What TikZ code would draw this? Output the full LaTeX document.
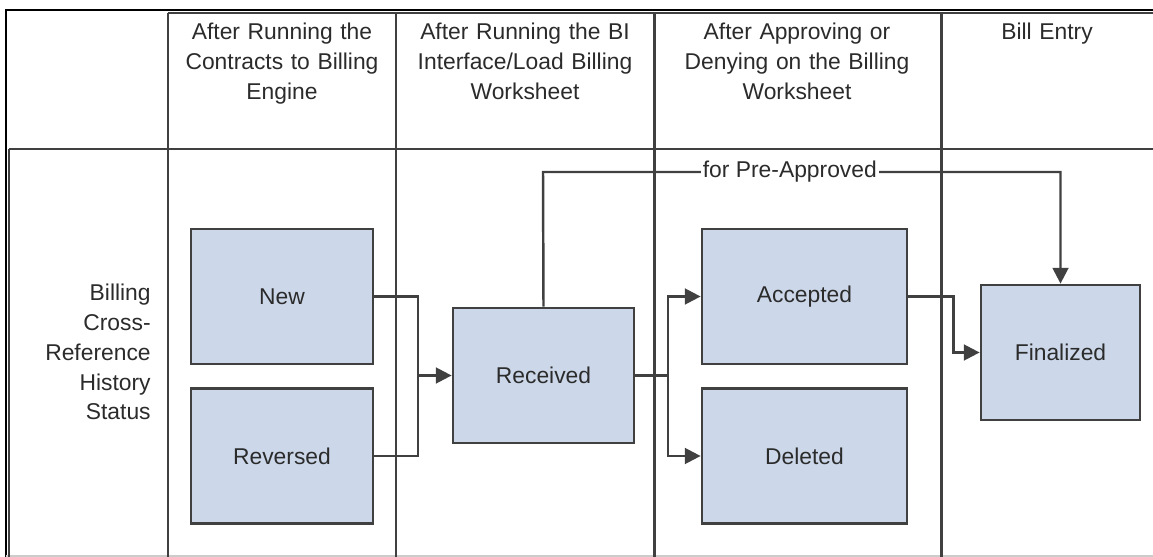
\documentclass[tikz,border=0pt]{standalone}
\usepackage{fontspec}
\setmainfont{Liberation Sans}
\usetikzlibrary{positioning,arrows.meta,calc}

\definecolor{boxfill}{HTML}{CCD8EA}
\definecolor{linegray}{HTML}{404040}
\definecolor{txtgray}{HTML}{2B2B2B}

\begin{document}
\begin{tikzpicture}[
    x=0.02cm, y=-0.02cm,
    font=\fontsize{13}{17}\selectfont, text=txtgray,
    lane/.style={draw=linegray, line width=1.7pt},
    head/.style={anchor=north, align=center, text width=5.4cm, inner sep=0pt},
    status/.style={draw=linegray, line width=1.6pt, fill=boxfill,
        minimum height=2.7cm, inner sep=0pt},
    conn/.style={draw=linegray, line width=1.4pt},
    arrow/.style={conn, -{Triangle[length=9pt, width=9pt]}},
    lbl/.style={fill=white, inner sep=1pt}
]
\useasboundingbox (0,0) rectangle (1153,557);

% outer frame
\draw[black, line width=0.8pt] (6,557) -- (6,10) -- (1153,10);
\draw[gray!40, line width=0.8pt] (6,556) -- (1153,556);

% lanes
\draw[lane] (168,13) -- (1153,13);
\draw[lane] (9,149) -- (1153,149);
\draw[lane] (9,149) -- (9,557);
\foreach \xx in {168,396,654,941}
    \draw[lane] (\xx,13) -- (\xx,557);

% lane headings
\node[head] (h1) at (282,23)  {After Running the\\Contracts to Billing\\Engine};
\node[head] (h2) at (525,23)  {After Running the BI\\Interface/Load Billing\\Worksheet};
\node[head] (h3) at (797,23)  {After Approving or\\Denying on the Billing\\Worksheet};
\node[head] (h4) at (1047,23) {Bill Entry};

\node[anchor=east, align=right, inner sep=0pt] (row) at (151,352)
    {Billing\\Cross-\\Reference\\History\\Status};

% statuses
\node[status, minimum width=3.64cm] (new) at (282,296.5) {New};
\node[status, minimum width=3.64cm] (rev) at (282,456)   {Reversed};
\node[status, minimum width=3.62cm] (rcv) at (543.5,375.5) {Received};
\node[status, minimum width=4.1cm]  (acc) at (804.5,296.5) {Accepted};
\node[status, minimum width=4.1cm]  (del) at (804.5,456)   {Deleted};
\node[status, minimum width=3.18cm] (fin) at (1060.5,352.5) {Finalized};

\coordinate (joinA) at (418,375.5);
\coordinate (joinB) at (668,375.5);
\coordinate (pre)   at (543,172);

\draw[conn] (new.east) -| (joinA);
\draw[conn] (rev.east) -| (joinA);
\draw[arrow] (joinA) -- (rcv.west);

\draw[conn] (rcv.east) -- (joinB);
\draw[arrow] (joinB) |- (acc.west);
\draw[arrow] (joinB) |- (del.west);

\draw[arrow] (acc.east) -- ++(45,0) |- (fin.west);

\draw[arrow] (rcv.north) -- (pre)
    -- node[lbl, pos=0.477] {for Pre-Approved} (fin.north |- pre)
    -- (fin.north);
\end{tikzpicture}
\end{document}
